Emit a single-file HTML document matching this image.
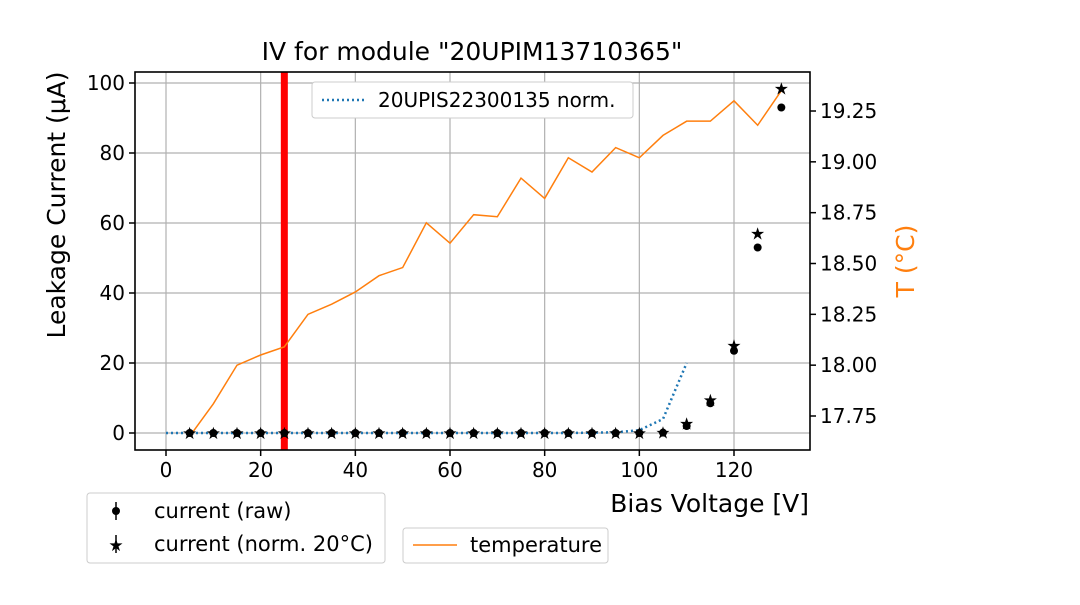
<!DOCTYPE html>
<html><head><meta charset="utf-8"><style>
body{margin:0;background:#fff;}
svg text{font-family:"DejaVu Sans","Liberation Sans",sans-serif;}
</style></head><body>
<svg id="chart" width="1080" height="600" xmlns="http://www.w3.org/2000/svg">
<rect width="1080" height="600" fill="#fff"/>
<g id="grid"></g>
<g id="marks"></g>
<g id="axes"></g>
<text x="472" y="60" font-size="25" text-anchor="middle">IV for module "20UPIM13710365"</text>
<text transform="translate(65,205) rotate(-90)" font-size="25" text-anchor="middle">Leakage Current (μA)</text>
<text transform="translate(914,261) rotate(-90)" font-size="25" fill="#ff7f0e" text-anchor="middle">T (°C)</text>
<text x="809" y="512" font-size="25" text-anchor="end">Bias Voltage [V]</text>
<g>
<rect x="312" y="82" width="321" height="36" rx="3" fill="#fff" stroke="#ccc"/>
<line x1="322" y1="100" x2="366" y2="100" stroke="#1f77b4" stroke-width="2.5" stroke-dasharray="2,3"/>
<text x="378" y="107" font-size="20">20UPIS22300135 norm.</text>
</g>
<g>
<rect x="87" y="493" width="298" height="70" rx="3" fill="#fff" stroke="#ccc"/>
<line x1="116" y1="502" x2="116" y2="520" stroke="#000" stroke-width="1.5"/>
<circle cx="116" cy="511" r="4" fill="#000"/>
<text x="154" y="518" font-size="21">current (raw)</text>
<line x1="116" y1="535" x2="116" y2="553" stroke="#000" stroke-width="1.5"/>
<text x="116" y="551" font-size="17" text-anchor="middle">★</text>
<text x="154" y="551" font-size="21">current (norm. 20°C)</text>
</g>
<g>
<rect x="403" y="528" width="205" height="35" rx="3" fill="#fff" stroke="#ccc"/>
<line x1="413" y1="545" x2="457" y2="545" stroke="#ff7f0e" stroke-width="1.5"/>
<text x="470" y="552" font-size="21">temperature</text>
</g>
</svg>
<script>
const volts=[5,10,15,20,25,30,35,40,45,50,55,60,65,70,75,80,85,90,95,100,105,110,115,120,125,130];
const currentRaw=[0,0,0,0,0,0,0,0,0,0,0,0,0,0,0,0,0,0,0,0,0.1,2,8.5,23.5,53,93];
const currentNorm=[0,0,0,0,0,0,0,0,0,0,0,0,0,0,0,0,0,0,0,0,0.2,2.7,9.5,25,57,98.5];
const temperature=[17.65,17.81,18.0,18.05,18.09,18.25,18.3,18.36,18.44,18.48,18.7,18.6,18.74,18.73,18.92,18.82,19.02,18.95,19.07,19.02,19.13,19.2,19.2,19.3,19.18,19.35];
const refVolts=[0,5,10,15,20,25,30,35,40,45,50,55,60,65,70,75,80,85,90,95,100,105,110];
const refCurrent=[0,0,0,0,0,0,0,0,0,0,0,0,0,0,0,0,0,0,0.1,0.2,0.8,4,20];
const xTicks=[0,20,40,60,80,100,120];
const yTicks=[0,20,40,60,80,100];
const tTicks=["17.75","18.00","18.25","18.50","18.75","19.00","19.25"];
const markerVoltage=25;
const L=135,R=810,T=72,B=450;
const xs=v=>166+(v-0)*(734-166)/120;
const ys=v=>433-v*3.5;
const yt=v=>416-(v-17.75)*203.33;
const NS="http://www.w3.org/2000/svg";
function mk(p,tag,a){const e=document.createElementNS(NS,tag);for(const k in a)e.setAttribute(k,a[k]);p.appendChild(e);return e;}
const grid=document.getElementById('grid'),marks=document.getElementById('marks'),axes=document.getElementById('axes');
xTicks.forEach(t=>{const x=xs(t);
 const g=mk(grid,'line',{x1:x,x2:x,y1:T,y2:B,stroke:'#b0b0b0','stroke-width':1.2});
 
 
 mk(axes,'line',{x1:x,x2:x,y1:B,y2:B+6,stroke:'#000','stroke-width':1.5});
 const tx=mk(axes,'text',{x:x,y:B+27,'font-size':20,'text-anchor':'middle'});tx.textContent=t;
 
 });
yTicks.forEach(t=>{const y=ys(t);
 const g=mk(grid,'line',{x1:L,x2:R,y1:y,y2:y,stroke:'#b0b0b0','stroke-width':1.2});
 
 
 mk(axes,'line',{x1:L-6,x2:L,y1:y,y2:y,stroke:'#000','stroke-width':1.5});
 const tx=mk(axes,'text',{x:L-10,y:y+7,'font-size':20,'text-anchor':'end'});tx.textContent=t;
 
 });
tTicks.forEach(t=>{const y=yt(parseFloat(t));
 mk(axes,'line',{x1:R,x2:R+6,y1:y,y2:y,stroke:'#000','stroke-width':1.5});
 const tx=mk(axes,'text',{x:R+10,y:y+7,'font-size':20});tx.textContent=t;
 
 });
const frame=mk(axes,'rect',{x:L,y:T,width:R-L,height:B-T,fill:'none',stroke:'#000','stroke-width':1.6});


const red=mk(marks,'line',{x1:xs(markerVoltage),x2:xs(markerVoltage),y1:T,y2:B,stroke:'#ff0000','stroke-width':7});


const tl=mk(marks,'polyline',{points:volts.map((v,i)=>xs(v)+','+yt(temperature[i])).join(' '),fill:'none',stroke:'#ff7f0e','stroke-width':1.5});


const rl=mk(marks,'polyline',{points:refVolts.map((v,i)=>xs(v)+','+ys(refCurrent[i])).join(' '),fill:'none',stroke:'#1f77b4','stroke-width':2.5,'stroke-dasharray':'2,3'});


volts.forEach((v,i)=>{
 const c=mk(marks,'circle',{cx:xs(v),cy:ys(currentRaw[i]),r:4,fill:'#000'});
 
 
 const s=mk(marks,'text',{x:xs(v),y:ys(currentNorm[i])+6,'font-size':17,'text-anchor':'middle'});s.textContent='★';
 
 
});
</script>
</body></html>
